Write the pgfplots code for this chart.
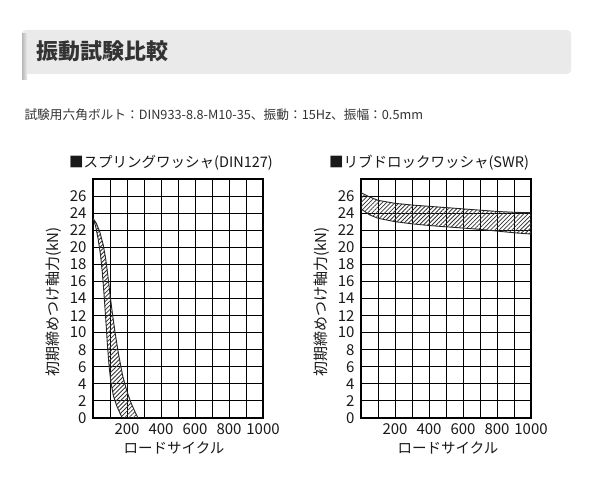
\documentclass[border=0pt]{standalone}
\usepackage{pgfplots}
\pgfplotsset{compat=1.18}
\usetikzlibrary{patterns.meta}
\usepackage{fontspec}
\setmainfont{Noto Sans CJK JP}
\definecolor{hdr}{HTML}{EAEAEA}
\definecolor{txt}{HTML}{333333}
\pgfplotsset{
  washer/.style={
    scale only axis, width=170pt, height=239pt, anchor=south west,
    xmin=0, xmax=1000, ymin=0, ymax=28,
    xtick={0,100,...,1000},
    xticklabels={{},{},200,{},400,{},600,{},800,{},1000},
    ytick={0,2,...,28},
    yticklabels={0,2,4,6,8,10,12,14,16,18,20,22,24,26,{}},
    grid=major,
    major grid style={black, line width=1pt},
    axis line style={black, line width=1.4pt},
    major tick length=0pt,
    tick style={draw=none},
    ticklabel style={font=\fontsize{15}{15}\selectfont, text=black!90},
    xticklabel style={yshift=-2.5pt},
    yticklabel style={xshift=-3pt},
    /pgf/number format/assume math mode=true,
  },
  band/.style={draw=black!85, line width=0.9pt,
    pattern={Lines[angle=45, distance=3pt, line width=0.8pt]}, pattern color=black!80},
}
\begin{document}
\begin{tikzpicture}
\useasboundingbox (0pt,0pt) rectangle (600pt,500pt);
\fill[white] (0pt,0pt) rectangle (600pt,500pt);
% header band
\fill[hdr, rounded corners=4pt] (22pt,470pt) rectangle (571pt,426pt);
\shade[left color=black!28, right color=hdr] (22pt,466pt) rectangle (27pt,420pt);
\node[anchor=west, font=\fontsize{22}{22}\selectfont\bfseries, text=txt] at (33pt,449pt) {振動試験比較};
\node[anchor=west, font=\fontsize{12.7}{12.7}\selectfont, text=txt] at (21pt,385pt) {試験用六角ボルト：DIN933-8.8-M10-35、振動：15Hz、振幅：0.5mm};

% left chart
\begin{axis}[washer, at={(93pt,82pt)}]
\addplot[band] coordinates {
(0,23.4) (20,22.8) (40,21.8) (60,20.3) (75,18.6) (88,16.6) (100,14.5) (115,12.1) (130,10) (150,7.5) (175,4.9) (200,3.1) (225,1.7) (250,0.6) (265,0)
(172,0) (160,0.5) (140,1.4) (120,2.6) (105,4.2) (95,6) (85,8.5) (77,11) (70,13) (63,15) (55,17) (45,19) (30,21) (15,22.5) (0,23.4)
} -- cycle;
\end{axis}
\node[font=\fontsize{14.5}{14.5}\selectfont, text=black!90] at (171pt,337pt) {■スプリングワッシャ(DIN127)};
\node[rotate=90, font=\fontsize{15}{15}\selectfont, text=black!90] at (54pt,198pt) {初期締めつけ軸力(kN)};
\node[font=\fontsize{14.5}{14.5}\selectfont, text=black!90] at (174pt,52pt) {ロードサイクル};

% right chart
\begin{axis}[washer, at={(361pt,82pt)}]
\addplot[band] coordinates {
(0,26.4) (50,25.9) (100,25.5) (200,25.15) (300,24.95) (400,24.8) (500,24.65) (600,24.5) (700,24.35) (800,24.2) (900,24.1) (1000,24.05)
(1000,21.55) (900,21.7) (800,21.9) (700,22.1) (600,22.25) (500,22.4) (400,22.55) (300,22.75) (200,23.0) (100,23.4) (50,23.8) (0,24.5)
} -- cycle;
\end{axis}
\node[font=\fontsize{14.5}{14.5}\selectfont, text=black!90] at (429pt,337pt) {■リブドロックワッシャ(SWR)};
\node[rotate=90, font=\fontsize{15}{15}\selectfont, text=black!90] at (322pt,198pt) {初期締めつけ軸力(kN)};
\node[font=\fontsize{14.5}{14.5}\selectfont, text=black!90] at (448pt,52pt) {ロードサイクル};
\end{tikzpicture}
\end{document}
